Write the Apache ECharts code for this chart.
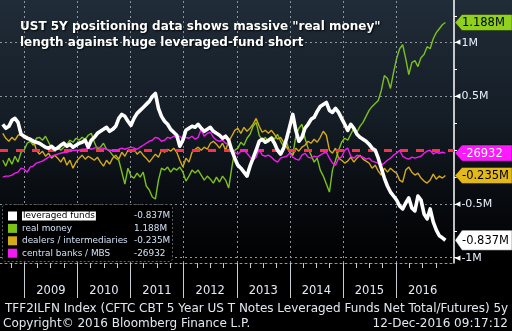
<!DOCTYPE html>
<html>
<head>
<meta charset="utf-8">
<script src="https://cdn.jsdelivr.net/npm/echarts@6/dist/echarts.min.js"></script>
<style>
html,body{margin:0;padding:0;background:#000;}
#chart{width:512px;height:331px;}
</style>
</head>
<body>
<div id="chart"></div>
<script>
// CFTC 5Y T-note net positions (thousands of contracts), one reading every third week
const lastDate = Date.UTC(2016, 11, 6);
const stepDays = 21;

const leveragedFunds = [
  241,204,222,278,296,259,148,130,111,102,
  83,74,65,46,28,19,37,9,19,46,
  65,37,56,28,46,65,74,93,28,93,
  120,157,176,194,213,176,194,222,296,333,
  315,269,231,296,343,370,398,426,454,500,
  528,389,315,269,241,194,167,139,37,93,
  185,204,222,213,241,204,176,194,213,176,
  157,139,111,130,93,0,-74,-139,-167,-204,
  -241,-148,-74,0,83,102,74,93,111,65,
  0,-37,19,111,222,333,185,83,120,204,
  241,287,306,361,407,426,444,370,352,389,
  352,296,241,185,241,204,148,120,102,83,
  56,19,0,-74,-167,-259,-333,-389,-426,-463,
  -519,-546,-491,-444,-537,-565,-426,-463,-593,-639,
  -546,-667,-741,-796,-815,-837
];
const realMoney = [
  -93,-148,-74,-130,-56,-111,-19,0,65,83,
  46,111,120,93,130,74,19,-9,37,0,
  28,56,93,74,111,93,120,102,139,157,
  74,9,28,65,9,-9,-46,-74,-93,-204,
  -315,-167,-241,-259,-213,-250,-204,-333,-370,-435,
  -454,-278,-167,-185,-157,-204,-167,-185,-157,-204,
  -287,-241,-185,-213,-185,-231,-278,-241,-269,-306,
  -250,-296,-241,-278,-352,-167,0,19,74,46,
  111,148,222,259,139,93,120,74,130,102,
  148,83,37,74,-19,-46,130,204,241,111,
  19,-46,-111,-74,-185,-241,-315,-389,-185,-93,
  0,74,111,93,148,204,167,222,259,315,
  370,407,435,463,556,694,667,574,722,852,
  944,981,852,704,815,833,778,861,889,963,
  944,1037,1093,1130,1167,1188
];
const dealers = [
  157,111,83,120,93,139,148,111,130,83,
  102,0,-37,-9,-56,-28,-74,-46,-74,-111,
  -65,-139,-93,-167,-111,-74,-46,-83,-56,-74,
  -93,-65,-111,-148,-93,-130,-74,-46,-83,-19,
  -56,0,-19,9,-37,-9,-46,-74,-111,-74,
  -37,-65,0,-19,9,-9,19,-19,-93,-157,
  -74,-111,-19,9,28,0,28,9,65,83,
  56,19,65,0,83,130,185,204,157,213,
  176,204,241,296,222,167,185,157,185,148,
  102,120,74,28,-19,-46,19,-9,28,46,
  83,65,102,74,120,176,139,0,-28,19,
  -74,-93,-120,-102,-65,-111,-74,-46,-83,-102,
  -120,-167,-139,-194,-231,-167,-204,-167,-194,-213,
  -278,-296,-185,-157,-204,-231,-213,-259,-287,-306,
  -278,-222,-269,-241,-259,-235
];
const centralBanks = [
  -250,-241,-241,-231,-213,-204,-167,-176,-204,-157,
  -148,-120,-111,-102,-83,-65,-56,-46,-37,-28,
  -19,-19,-9,0,0,0,9,9,19,9,
  19,28,19,19,9,0,0,-9,9,19,
  9,19,28,19,9,28,46,65,83,93,
  120,111,83,93,120,111,130,120,130,102,
  120,111,130,102,120,194,130,157,167,120,
  93,83,93,65,56,19,-19,-37,-9,0,
  -28,-65,-93,-65,9,-46,-56,-46,-65,-93,
  -111,-74,-65,-56,-28,-65,-83,-93,-46,-28,
  -65,-74,-56,-65,-46,-28,-19,-74,-120,-139,
  -74,-65,0,19,-56,-74,-46,-56,-65,-83,
  -74,-102,-111,-120,-139,-120,-93,-74,-46,-28,
  0,-56,-74,-83,-65,-74,-65,-56,-28,-9,
  0,-37,-19,-28,-19,-26.932
];

const seriesNames = ['leveraged funds', 'real money', 'dealers / intermediaries', 'central banks / MBS'];
const yearLabels = ['2009', '2010', '2011', '2012', '2013', '2014', '2015', '2016'];
const yLabelValues = [1000, 500, -500, -1000];
const yMinorTicks = [1250, 1000, 750, 500, 250, 0, -250, -500, -750, -1000];

const titleLines = ['UST 5Y positioning data shows massive "real money"', 'length against huge leveraged-fund short'];
const footerSource = 'TFF2ILFN Index (CFTC CBT 5 Year US T Notes Leveraged Funds Net Total/Futures) 5y';
const footerCopyright = 'Copyright\u00a9 2016 Bloomberg Finance L.P.';
const footerStamp = '12-Dec-2016 09:17:12';

const colors = {
  lev: '#ffffff',
  real: '#7cc11a',
  dealers: '#d4a91a',
  cb: '#f21cf2',
  realTag: '#8fd11e',
  dealersTag: '#e2b91c',
  cbTag: '#ff19ff'
};

const DAY = 86400000;
const N = leveragedFunds.length;
const dates = leveragedFunds.map((_, i) => lastDate - (N - 1 - i) * stepDays * DAY);
const pair = arr => arr.map((v, i) => [dates[i], v]);

const xMin = Date.UTC(2008, 6, 17);
const xMax = Date.UTC(2017, 1, 3);
const yMin = -1049, yMax = 1397;

const yearStarts = yearLabels.map(y => Date.UTC(+y, 0, 1));
const yearMids = yearLabels.map(y => Date.UTC(+y, 6, 2));
const quarterStarts = [Date.UTC(2008, 9, 1)];
yearLabels.forEach(y => [3, 6, 9].forEach(m => quarterStarts.push(Date.UTC(+y, m, 1))));

const FONT = '"DejaVu Sans", sans-serif';
const fmtM = v => (v / 1000).toFixed(3) + 'M';
const fmtInt = v => String(Math.round(v * 1000));

const chart = echarts.init(document.getElementById('chart'), null, { renderer: 'canvas' });

const gridStyle = { color: '#8e959d', width: 1, type: [2, 3] };

// Dates are plotted on a numeric (timestamp) axis so ticks can sit on exact calendar boundaries
const dateAxis = extra => Object.assign({
  type: 'value', position: 'bottom', min: xMin, max: xMax, scale: true,
  axisLine: { show: false, onZero: false },
  axisTick: { show: false },
  axisLabel: { show: false },
  splitLine: { show: false }
}, extra);

const option = {
  animation: false,
  backgroundColor: {
    type: 'linear', x: 0, y: 0, x2: 0, y2: 1,
    colorStops: [
      { offset: 0, color: '#202c38' },
      { offset: 0.35, color: '#151d26' },
      { offset: 0.62, color: '#070a0e' },
      { offset: 0.8, color: '#000000' },
      { offset: 1, color: '#000000' }
    ]
  },
  grid: { left: 0, right: 58, top: 0, bottom: 68, containLabel: false, outerBoundsMode: 'none' },
  xAxis: [
    dateAxis({
      axisLine: { show: true, onZero: false, lineStyle: { color: '#8e959d', type: [2, 3] } },
      axisTick: { show: true, customValues: yearStarts, length: 35, lineStyle: { color: '#c8cdd2', width: 1 } }
    }),
    dateAxis({
      axisTick: { show: true, customValues: quarterStarts, length: 5, lineStyle: { color: '#c8cdd2', width: 1 } }
    }),
    dateAxis({
      axisLabel: {
        show: true, customValues: yearMids, margin: 22,
        formatter: v => String(new Date(v).getUTCFullYear()),
        color: '#e4ebf5', fontFamily: FONT, fontSize: 11.5
      }
    })
  ],
  yAxis: {
    type: 'value', position: 'right', min: yMin, max: yMax,
    axisLine: { show: true, onZero: false, lineStyle: { color: '#ffffff', width: 1.5 } },
    axisTick: { show: true, customValues: yMinorTicks, length: 3, inside: false, lineStyle: { color: '#ffffff', width: 1 } },
    axisLabel: {
      show: true, customValues: yLabelValues, margin: 1,
      formatter: v => '{t|\u25C0}{v|' + (v / 1000) + 'M}',
      rich: {
        t: { fontSize: 7, color: '#ffffff', fontFamily: FONT },
        v: { fontSize: 11, color: '#e8effc', fontFamily: FONT, padding: [0, 0, 0, 1] }
      }
    },
    splitLine: { show: false }
  },
  series: [
    {
      type: 'line', data: [], silent: true, z: 1,
      markLine: {
        silent: true, symbol: 'none', animation: false,
        label: { show: false },
        lineStyle: gridStyle,
        data: yLabelValues.map(v => ({ yAxis: v })).concat(yearStarts.map(t => ({ xAxis: t })))
      }
    },
    {
      name: seriesNames[1], type: 'line', data: pair(realMoney), z: 3,
      showSymbol: false, symbol: 'none',
      lineStyle: { color: colors.real, width: 1.4 }
    },
    {
      name: seriesNames[2], type: 'line', data: pair(dealers), z: 4,
      showSymbol: false, symbol: 'none',
      lineStyle: { color: colors.dealers, width: 1.4 }
    },
    {
      name: seriesNames[3], type: 'line', data: pair(centralBanks), z: 5,
      showSymbol: false, symbol: 'none',
      lineStyle: { color: colors.cb, width: 1.4 }
    },
    {
      type: 'line', data: [], silent: true, z: 6,
      markLine: {
        silent: true, symbol: 'none', animation: false,
        label: { show: false },
        lineStyle: { color: '#ff2f4e', width: 3, type: [8, 8] },
        data: [{ yAxis: 0 }]
      }
    },
    {
      name: seriesNames[0], type: 'line', data: pair(leveragedFunds), z: 7,
      showSymbol: false, symbol: 'none',
      lineStyle: { color: colors.lev, width: 3.6, join: 'round' }
    }
  ]
};

chart.setOption(option);

// Right-hand value tags, placed at each series' latest reading
const lastOf = a => a[a.length - 1];
const tagSpecs = [
  { v: lastOf(realMoney), text: fmtM(lastOf(realMoney)), fill: colors.realTag, color: '#000', h: 16 },
  { v: lastOf(centralBanks), text: fmtInt(lastOf(centralBanks)), fill: colors.cbTag, color: '#fff', h: 16 },
  { v: lastOf(dealers), text: fmtM(lastOf(dealers)), fill: colors.dealersTag, color: '#000', h: 16 },
  { v: lastOf(leveragedFunds), text: fmtM(lastOf(leveragedFunds)), fill: '#ffffff', color: '#000', h: 20 }
];
const axisX = 455, tagRight = 512;
const graphics = [];
tagSpecs.forEach(t => {
  const yc = chart.convertToPixel({ yAxisIndex: 0 }, t.v);
  const h2 = t.h / 2;
  graphics.push({
    type: 'polygon', z: 100,
    shape: { points: [[axisX, yc], [axisX + 7, yc - h2], [tagRight, yc - h2], [tagRight, yc + h2], [axisX + 7, yc + h2]] },
    style: { fill: t.fill, stroke: 'rgba(0,0,0,0.35)', lineWidth: 1 }
  });
  graphics.push({
    type: 'text', z: 101,
    style: { text: t.text, x: 462, y: yc + 0.5, fill: t.color, font: '11.5px ' + FONT, textAlign: 'left', textVerticalAlign: 'middle' }
  });
});

// Title
titleLines.forEach((line, i) => {
  graphics.push({
    type: 'text', z: 110,
    style: {
      text: line, x: 20, y: 27 + i * 16, fill: '#ffffff',
      font: 'bold 12px ' + FONT, textAlign: 'left', textVerticalAlign: 'middle',
      textShadowColor: 'rgba(0,0,0,0.9)', textShadowBlur: 2, textShadowOffsetX: 1, textShadowOffsetY: 1
    }
  });
});

// Legend panel
graphics.push({
  type: 'rect', z: 100,
  shape: { x: 2.5, y: 204.5, width: 170, height: 57, r: 3 },
  style: { fill: '#000000', stroke: '#5d6166', lineWidth: 1, lineDash: [2, 2] }
});
const legendColors = [colors.lev, colors.real, colors.dealers, colors.cb];
const legendValues = [
  fmtM(lastOf(leveragedFunds)), fmtM(lastOf(realMoney)),
  fmtM(lastOf(dealers)), fmtInt(lastOf(centralBanks))
];
seriesNames.forEach((name, i) => {
  const yc = 216 + i * 12.4;
  graphics.push({
    type: 'rect', z: 101,
    shape: { x: 8, y: yc - 4.5, width: 9, height: 9 },
    style: { fill: legendColors[i] }
  });
  const textStyle = {
    text: name, x: 22, y: yc, fill: i === 0 ? '#000' : '#d3e1f4',
    font: '8.9px ' + FONT, textAlign: 'left', textVerticalAlign: 'middle'
  };
  if (i === 0) { textStyle.backgroundColor = '#ffffff'; textStyle.padding = [0, 1, 0, 1]; }
  graphics.push({ type: 'text', z: 102, style: textStyle });
  graphics.push({
    type: 'text', z: 102,
    style: { text: legendValues[i], x: 134, y: yc, fill: '#d3e1f4', font: '8.9px ' + FONT, textAlign: 'left', textVerticalAlign: 'middle' }
  });
});

// Footer
const footFont = '12px ' + FONT;
graphics.push({
  type: 'text', z: 100,
  style: { text: footerSource, x: 5, y: 309, fill: '#e2e8f0', font: footFont, textAlign: 'left', textVerticalAlign: 'middle' }
});
graphics.push({
  type: 'text', z: 100,
  style: { text: footerCopyright, x: 3, y: 324, fill: '#e2e8f0', font: footFont, textAlign: 'left', textVerticalAlign: 'middle' }
});
graphics.push({
  type: 'text', z: 100,
  style: { text: footerStamp, x: 508, y: 324, fill: '#e2e8f0', font: footFont, textAlign: 'right', textVerticalAlign: 'middle' }
});

chart.setOption({ graphic: graphics });
</script>
</body>
</html>
